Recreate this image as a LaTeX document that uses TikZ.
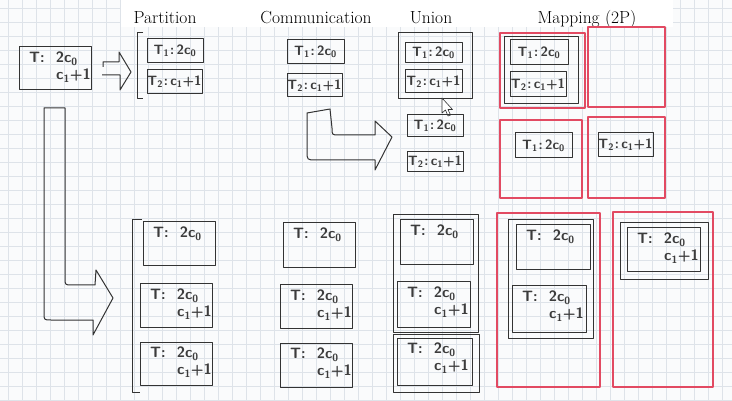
\documentclass[tikz,border=0pt]{standalone}
\usepackage{amsmath}
\usepackage{xcolor}
\usetikzlibrary{calc}
\definecolor{ink}{HTML}{333333}
\definecolor{pen}{HTML}{3C3C3C}
\definecolor{cpured}{HTML}{E24A62}
\definecolor{gridc}{HTML}{DEE3E9}
\definecolor{paper}{HTML}{FAFBFC}
\tikzset{%
	gridline/.style   = {draw=gridc, line width=0.7pt},
	box/.style        = {draw=ink, line width=1pt, line join=round},
	cpubox/.style     = {draw=cpured, line width=1.15pt, line join=round},
	blockarrow/.style = {draw=ink, line width=1pt, line join=round},
	title/.style      = {font=\fontsize{17.5}{21}\selectfont, anchor=base},
	hand/.style       = {font=\fontsize{15}{17}\sffamily\bfseries, text=pen, inner sep=0pt, align=left},
	smallhand/.style  = {hand, font=\fontsize{13.5}{16}\sffamily\bfseries},
}
\newcommand{\Thead}{T:\ \ 2c\textsubscript{0}}
\newcommand{\Tfull}{T:\ \ 2c\textsubscript{0}\\\hspace*{27pt}c\textsubscript{1}+1}
\newcommand{\Tsub}[2]{T\textsubscript{#1}\kern1pt:\,#2}

\begin{document}
\begin{tikzpicture}[x=1pt,y=-1pt]
		\useasboundingbox (0,0) rectangle (732,401);
		% paper
		\fill[paper] (0,0) rectangle (732,401);
		\foreach \x in {8,22,...,728} \draw[gridline] (\x,0) -- (\x,401);
		\foreach \y in {8,22,...,400} \draw[gridline] (0,\y) -- (732,\y);
		\fill[white] (121,0) rectangle (673,27);
		
		% titles
		\node[title] (partition) at (165,24) {Partition};
		\node[title] (communication) at (316,24) {Communication};
		\node[title] (union) at (431,24) {Union};
		\node[title] (mapping) at (587,24) {Mapping (2P)};
		
		% original task
		\draw[box] (19,47) rectangle (91,90);
		\node[hand, anchor=north west] (task) at (29,52) {\Tfull};
		\draw[blockarrow] (103,67) -- (103,62) -- (119,62) -- (119,52) -- (131,72) -- (120,90) -- (120,75) -- (102,75);
		\draw[blockarrow] (44,108) -- (65,108) -- (65,278) .. controls (65,285) .. (72,285) -- (95,285) -- (96,270) -- (113,298) -- (93,335) -- (93,320) -- (51,320) .. controls (44,320) .. (44,313) -- cycle;
		
		% fine partition
		\draw[box] (143,33) -- (137,33) -- (137,99) -- (143,99);
		\draw[box] (147,39) rectangle (203,63);
		\node[smallhand] (pT1) at (175,51) {\Tsub{1}{2c\textsubscript{0}}};
		\draw[box] (147,70) rectangle (202,94);
		\node[smallhand] (pT2) at (174.5,82) {\Tsub{2}{c\textsubscript{1}+1}};
		
		\draw[box] (287,40) rectangle (344,64);
		\node[smallhand] (cT1) at (315.5,52) {\Tsub{1}{2c\textsubscript{0}}};
		\draw[box] (287,74) rectangle (342,97);
		\node[smallhand] (cT2) at (314.5,85.5) {\Tsub{2}{c\textsubscript{1}+1}};
		\draw[blockarrow] (307,113) -- (330,109) -- (332,128) .. controls (332,135) .. (339,135) -- (375,135) -- (375,121) -- (392,137) -- (375,170) -- (375,160) -- (316,160) .. controls (307,160) .. (307,151) -- cycle;
		
		\draw[box] (398,33) rectangle (472,99);
		\draw[box] (405,43) rectangle (462,63);
		\node[smallhand] (uT1) at (433.5,53) {\Tsub{1}{2c\textsubscript{0}}};
		\draw[box] (405,70) rectangle (462,93);
		\node[smallhand] (uT2) at (433.5,81.5) {\Tsub{2}{c\textsubscript{1}+1}};
		\draw[ink, fill=white, line width=0.6pt, line join=round] (442,98) -- (442,113) -- (445.5,110) -- (448,116) -- (450.5,115) -- (448,109.5) -- (452.5,109.5) -- cycle;
		\draw[box] (407,115) rectangle (463,137);
		\node[smallhand] (uT1b) at (435,126) {\Tsub{1}{2c\textsubscript{0}}};
		\draw[box] (407,152) rectangle (463,172);
		\node[smallhand] (uT2b) at (435,162) {\Tsub{2}{c\textsubscript{1}+1}};
		
		\draw[cpubox] (500,33) rectangle (585,108);
		\draw[box] (504,37) rectangle (578,104);
		\draw[box] (510,40) rectangle (568,65);
		\node[smallhand] (mT1) at (539,52.5) {\Tsub{1}{2c\textsubscript{0}}};
		\draw[box] (510,72) rectangle (566,97);
		\node[smallhand] (mT2) at (538,84.5) {\Tsub{2}{c\textsubscript{1}+1}};
		\draw[cpubox] (588,27) rectangle (665,107);
		\draw[cpubox] (500,120) rectangle (582,198);
		\draw[box] (515,133) rectangle (572,158);
		\node[smallhand] (mT1b) at (543.5,145.5) {\Tsub{1}{2c\textsubscript{0}}};
		\draw[cpubox] (588,117) rectangle (665,198);
		\draw[box] (598,133) rectangle (653,157);
		\node[smallhand] (mT2b) at (625.5,145) {\Tsub{2}{c\textsubscript{1}+1}};
		
		% coarse partition
		\draw[box] (142,220) -- (132,220) -- (132,392) -- (140,392);
		\draw[box] (143,222) rectangle (215,266);
		\node[hand, anchor=north west] (pA) at (153,227) {\Thead};
		\draw[box] (140,284) rectangle (212,327);
		\node[hand, anchor=north west] (pB) at (150,289) {\Tfull};
		\draw[box] (140,342) rectangle (212,385);
		\node[hand, anchor=north west] (pC) at (150,347) {\Tfull};
		
		\draw[box] (283,223) rectangle (355,268);
		\node[hand, anchor=north west] (cA) at (293,228) {\Thead};
		\draw[box] (280,285) rectangle (352,328);
		\node[hand, anchor=north west] (cB) at (290,290) {\Tfull};
		\draw[box] (280,343) rectangle (352,387);
		\node[hand, anchor=north west] (cC) at (290,348) {\Tfull};
		
		\draw[box] (393,215) rectangle (478,332);
		\draw[box] (400,220) rectangle (473,265);
		\node[hand, anchor=north west] (uA) at (410,225) {\Thead};
		\draw[box] (397,282) rectangle (470,327);
		\node[hand, anchor=north west] (uB) at (407,287) {\Tfull};
		\draw[box] (393,334) rectangle (479,392);
		\draw[box] (397,338) rectangle (472,385);
		\node[hand, anchor=north west] (uC) at (407,343) {\Tfull};
		
		\draw[cpubox] (497,213) rectangle (600,387);
		\draw[box] (508,220) rectangle (593,338);
		\draw[box] (516,225) rectangle (590,270);
		\node[hand, anchor=north west] (mA) at (526,230) {\Thead};
		\draw[box] (512,286) rectangle (586,332);
		\node[hand, anchor=north west] (mB) at (522,291) {\Tfull};
		\draw[cpubox] (613,212) rectangle (713,387);
		\draw[box] (620,223) rectangle (708,280);
		\draw[box] (627,228) rectangle (700,272);
		\node[hand, anchor=north west] (mC) at (637,233) {\Tfull};
		
\end{tikzpicture}
\end{document}
